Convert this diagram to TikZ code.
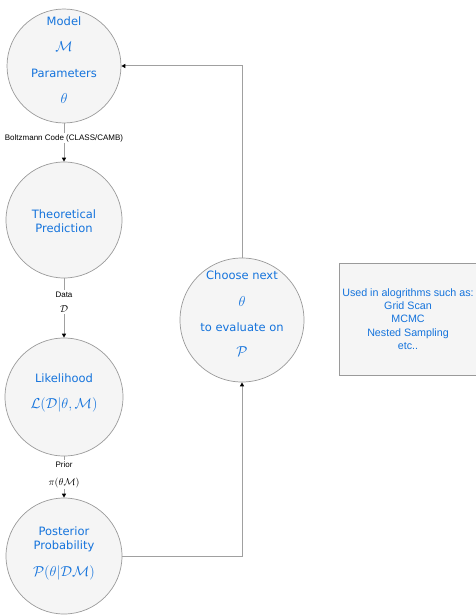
\documentclass[tikz,border=0pt]{standalone}
\usepackage{fontspec}
\newfontfamily\verd{DejaVu Sans}
\newfontfamily\helv{Liberation Sans}
\usetikzlibrary{arrows.meta}
\definecolor{txtblue}{RGB}{20,115,220}
\definecolor{fillg}{HTML}{F5F5F5}
\definecolor{strokeg}{HTML}{9A9A9A}
\definecolor{lineg}{HTML}{A0A0A0}
\begin{document}
\begin{tikzpicture}[x=1pt,y=-1pt,
  circ/.style={circle, draw=strokeg, fill=fillg, line width=0.7pt, inner sep=0pt},
  btxt/.style={text=txtblue, font=\verd\fontsize{11.5}{14}\selectfont, inner sep=0pt, align=center},
  mtxt/.style={text=txtblue, font=\fontsize{14.5}{17}\selectfont, inner sep=0pt},
  conn/.style={draw=lineg, line width=1pt, -{Triangle[length=4pt,width=4pt,color=black]}},
  lbl/.style={fill=white, inner sep=1.5pt, align=center, font=\helv\fontsize{8}{9.6}\selectfont},
  algbox/.style={draw=strokeg, fill=fillg, line width=0.7pt, minimum width=138pt, minimum height=112pt,
    text=txtblue, align=center, font=\helv\fontsize{10.7}{13.2}\selectfont}
]
\useasboundingbox (0,0) rectangle (475,615);

% circles
\node[circ, minimum size=114pt] (c1) at (64,66) {};
\node[circ, minimum size=116pt] (c2) at (64,220) {};
\node[circ, minimum size=118pt] (c3) at (64,397) {};
\node[circ, minimum size=116pt] (c4) at (64,556) {};
\node[circ, minimum size=124pt] (c5) at (242,320) {};

% texts in circles
\node[btxt] (t1a) at (64,21) {Model};
\node[mtxt] (t1b) at (64,47) {$\mathcal{M}$};
\node[btxt] (t1c) at (64,73) {Parameters};
\node[mtxt] (t1d) at (64,98) {$\theta$};

\node[btxt] (t2) at (64,221) {Theoretical\\Prediction};

\node[btxt] (t3a) at (64,378) {Likelihood};
\node[mtxt] (t3b) at (64,405) {$\mathcal{L}(\mathcal{D}|\theta,\mathcal{M})$};

\node[btxt] (t4a) at (64,539) {Posterior\\Probability};
\node[mtxt] (t4b) at (64,573) {$\mathcal{P}(\theta|\mathcal{D}\mathcal{M})$};

\node[btxt] (t5a) at (242,275) {Choose next};
\node[mtxt] (t5b) at (242,301) {$\theta$};
\node[btxt] (t5c) at (242,327) {to evaluate on};
\node[mtxt] (t5d) at (242,352) {$\mathcal{P}$};

% box
\node[algbox] (box) at (408,319) {Used in alogrithms such as:\\Grid Scan\\MCMC\\Nested Sampling\\etc..};

% connectors
\draw[conn] (c1) -- node[lbl, pos=0.385] (l1) {Boltzmann Code (CLASS/CAMB)} (c2);
\draw[conn] (c2) -- node[lbl, pos=0.4] (l2) {Data\\[6pt]{\fontsize{10}{12}\selectfont$\mathcal{D}$}} (c3);
\draw[conn] (c3) -- node[lbl, pos=0.45] (l3) {Prior\\[8pt]{\fontsize{10}{12}\selectfont$\pi(\theta\mathcal{M})$}} (c4);
\draw[conn] (c4.east) -| (c5.south);
\draw[conn] (c5.north) |- (c1.east);
\end{tikzpicture}
\end{document}
